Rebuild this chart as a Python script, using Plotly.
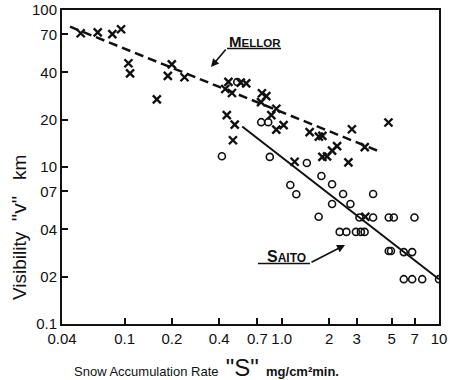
import plotly.graph_objects as go

# Mellor observations (x markers): snow accumulation rate S, visibility v
mellor_s = [0.0526, 0.0675, 0.0836, 0.0950, 0.1058, 0.1084, 0.1604, 0.1885, 0.1998, 0.2405,
            0.458, 0.548, 0.594, 0.437, 0.482, 0.748, 0.797, 0.738, 0.923, 0.858,
            0.923, 1.027, 1.504, 1.721, 1.812, 2.793, 4.77, 3.37, 2.248, 2.089,
            1.941, 1.812, 2.653, 1.207, 0.447, 0.502, 0.489, 3.40]
mellor_v = [71.1, 72.1, 70.3, 75.4, 45.8, 39.5, 27.0, 38.0, 45.1, 37.3,
            34.9, 34.5, 34.1, 31.4, 29.6, 29.5, 28.3, 25.9, 23.5, 21.4,
            17.3, 18.5, 16.7, 15.6, 15.8, 17.4, 19.2, 13.4, 13.6, 12.7,
            11.7, 11.6, 10.7, 10.8, 21.4, 18.6, 14.8, 4.82]

# Saito observations (open circles)
saito_s = [0.416, 0.839, 1.443, 0.521, 0.740, 0.820, 1.786, 2.089, 1.133, 1.237,
           2.455, 3.81, 2.089, 2.732, 1.716, 3.118, 3.81, 4.79, 5.16, 6.98,
           2.335, 2.576, 2.962, 3.186, 3.364, 4.79, 4.95, 5.97, 6.75, 5.97,
           6.75, 7.82, 10.0]
saito_v = [11.7, 11.6, 10.6, 34.8, 19.3, 19.3, 8.76, 7.76, 7.68, 6.71,
           6.73, 6.73, 5.81, 5.81, 4.82, 4.77, 4.77, 4.77, 4.77, 4.77,
           3.86, 3.86, 3.86, 3.86, 3.86, 2.92, 2.92, 2.87, 2.87, 1.93,
           1.93, 1.93, 1.93]

# Fitted lines
mellor_fit_s = [0.045, 4.06]
mellor_fit_v = [78.3, 12.7]
saito_fit_s = [0.56, 10.0]
saito_fit_v = [18.1, 1.93]

# Axis ticks
x_tickvals = [0.04, 0.1, 0.2, 0.4, 0.7, 1.0, 2, 3, 5, 7, 10]
x_ticktext = ["0.04", "0.1", "0.2", "0.4", "0.7", "1.0", "2", "3", "5", "7", "10"]
y_tickvals = [1, 2, 4, 7, 10, 20, 40, 70, 100]
y_ticktext = ["0.1", "02", "04", "07", "10", "20", "40", "70", "100"]

INK = "#111111"
FONT = "Liberation Sans, Arial, sans-serif"

fig = go.Figure()
fig.add_trace(go.Scatter(x=mellor_fit_s, y=mellor_fit_v, mode="lines",
                         line=dict(color=INK, width=2.5, dash="9px,5px"),
                         hoverinfo="skip", showlegend=False))
fig.add_trace(go.Scatter(x=saito_fit_s, y=saito_fit_v, mode="lines",
                         line=dict(color=INK, width=2),
                         hoverinfo="skip", showlegend=False))
fig.add_trace(go.Scatter(x=mellor_s, y=mellor_v, mode="markers",
                         marker=dict(symbol="x-thin", size=8,
                                     line=dict(color=INK, width=2.4)),
                         showlegend=False))
fig.add_trace(go.Scatter(x=saito_s, y=saito_v, mode="markers",
                         marker=dict(symbol="circle-open", size=7, color=INK,
                                     line=dict(color=INK, width=1.6)),
                         showlegend=False))

axis_common = dict(showgrid=False, zeroline=False, showline=True, linecolor=INK,
                   linewidth=2, mirror=True, ticks="inside", ticklen=6,
                   tickwidth=2, tickcolor=INK, ticklabeloverflow="allow",
                   automargin=False,
                   tickfont=dict(family=FONT, size=15, color=INK))

fig.update_xaxes(type="log", range=[-1.39794, 1.0], tickmode="array",
                 tickvals=x_tickvals, ticktext=x_ticktext, **axis_common)
fig.update_yaxes(type="log", range=[0, 2], tickmode="array",
                 tickvals=y_tickvals, ticktext=y_ticktext, **axis_common)

# plot area in page pixels: x 62..439, y 10..324
def px2paper(px, py):
    return (px - 62) / 377.0, (324 - py) / 314.0

annotations = []
# y axis title
x0, y0 = px2paper(18, 228)
annotations.append(dict(x=x0, y=y0, xref="paper", yref="paper", textangle=-90,
                        showarrow=False, xanchor="center", yanchor="middle",
                        text='Visibility  <span style="font-size:21px">"v"</span>   km',
                        font=dict(family=FONT, size=19, color=INK)))
# x axis title
x0, y0 = px2paper(206, 367)
annotations.append(dict(x=x0, y=y0, xref="paper", yref="paper",
                        showarrow=False, xanchor="center", yanchor="middle",
                        text='Snow Accumulation Rate  <span style="font-size:24px">"S"</span>  <b>mg/cm²min.</b>',
                        font=dict(family=FONT, size=13, color=INK)))
# Mellor label
x0, y0 = px2paper(255, 42)
annotations.append(dict(x=x0, y=y0, xref="paper", yref="paper", showarrow=False,
                        xanchor="center", yanchor="middle",
                        text='<b>M<span style="font-size:11.5px">ELLOR</span></b>',
                        font=dict(family=FONT, size=15, color=INK)))
hx, hy = px2paper(211, 67)
annotations.append(dict(x=hx, y=hy, xref="paper", yref="paper", text="",
                        showarrow=True, arrowhead=2, arrowsize=1, arrowwidth=1.6,
                        arrowcolor=INK, ax=16, ay=-19))
# Saito label
x0, y0 = px2paper(286, 256)
annotations.append(dict(x=x0, y=y0, xref="paper", yref="paper", showarrow=False,
                        xanchor="center", yanchor="middle",
                        text='<b>S<span style="font-size:12px">AITO</span></b>',
                        font=dict(family=FONT, size=16, color=INK)))
hx, hy = px2paper(345, 245)
annotations.append(dict(x=hx, y=hy, xref="paper", yref="paper", text="",
                        showarrow=True, arrowhead=2, arrowsize=1, arrowwidth=1.6,
                        arrowcolor=INK, ax=-35, ay=18))

shapes = []
ux0, uy = px2paper(227, 48.5)
ux1, _ = px2paper(281, 48.5)
shapes.append(dict(type="line", xref="paper", yref="paper", x0=ux0, x1=ux1,
                   y0=uy, y1=uy, line=dict(color=INK, width=1.6)))
ux0, uy = px2paper(258, 263.5)
ux1, _ = px2paper(310, 263.5)
shapes.append(dict(type="line", xref="paper", yref="paper", x0=ux0, x1=ux1,
                   y0=uy, y1=uy, line=dict(color=INK, width=1.6)))

fig.update_layout(width=456, height=380,
                  margin=dict(l=62, r=17, t=10, b=56, autoexpand=False),
                  paper_bgcolor="white", plot_bgcolor="white",
                  annotations=annotations, shapes=shapes,
                  font=dict(family=FONT, color=INK))

# remove the default page margin so the figure sits at the window origin
fig.write_html("out.html",
               config={"displayModeBar": False},
               post_script="document.body.style.margin='0';document.body.style.overflow='hidden';")
